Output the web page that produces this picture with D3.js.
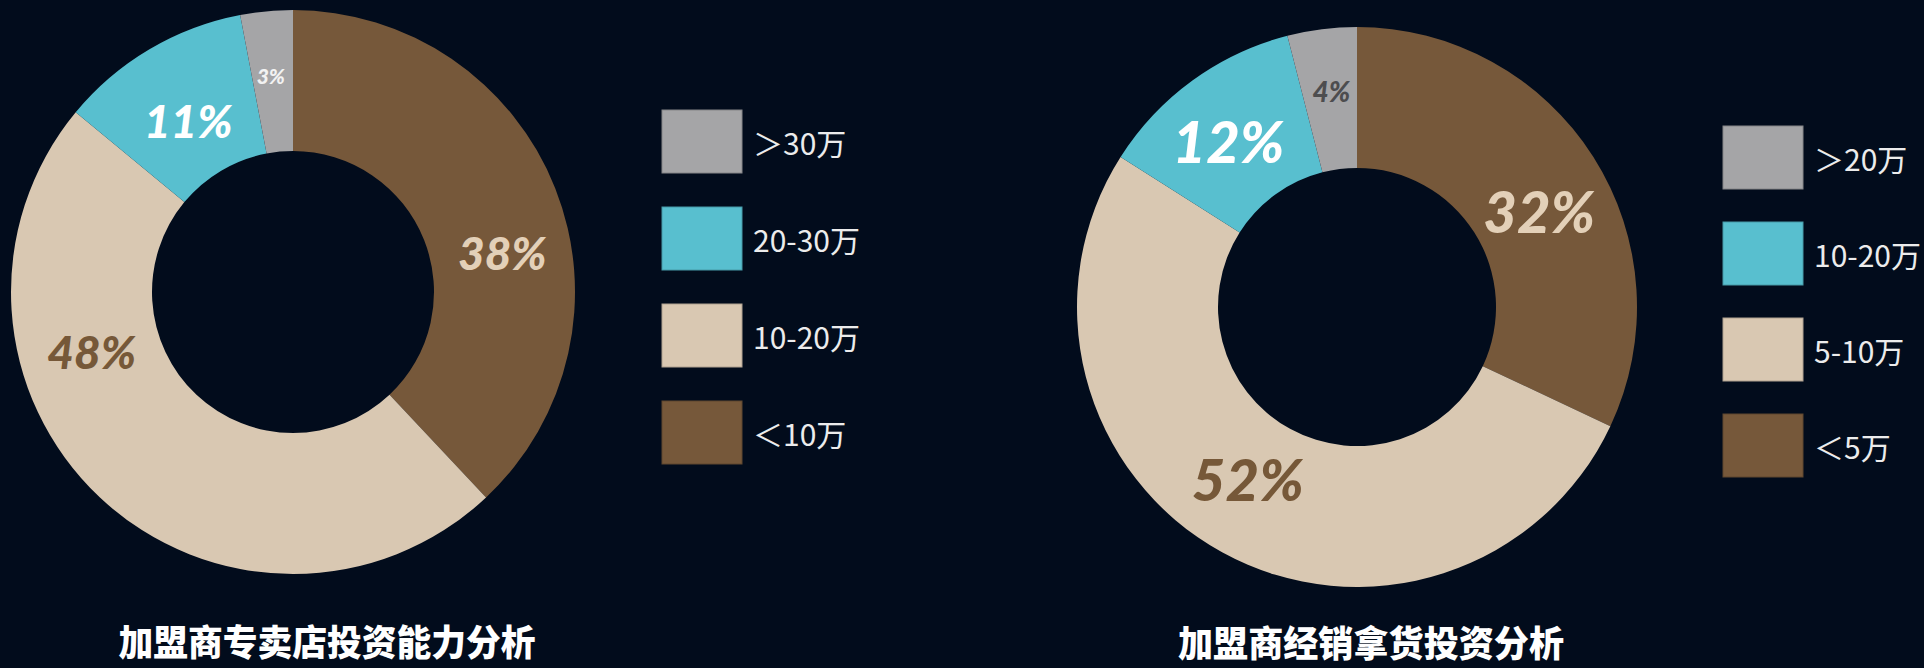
<!DOCTYPE html>
<html>
<head>
<meta charset="utf-8">
<script src="https://cdn.jsdelivr.net/npm/d3@7"></script>
<style>
  html, body { margin: 0; padding: 0; background: #020c1c; }
  svg { display: block; }
</style>
</head>
<body>
<div id="chart"></div>
<script>
/** Data: legend order, top to bottom */
const storeCategories = ["＞30万", "20-30万", "10-20万", "＜10万"];
const storeValues = [3, 11, 48, 38];
const storeTitle = "加盟商专卖店投资能力分析";

const dealerCategories = ["＞20万", "10-20万", "5-10万", "＜5万"];
const dealerValues = [4, 12, 52, 32];
const dealerTitle = "加盟商经销拿货投资分析";

const sliceColors = ["#a5a5a7", "#58bfcf", "#d9c8b2", "#76583a"];

/** Page size */
const width = 1924;
const height = 668;

/** Layout per chart */
const charts = [
  {
    categories: storeCategories,
    values: storeValues,
    title: storeTitle,
    cx: 293, cy: 292, outer: 282, inner: 141,
    labelFrac: [0.46, 0.48, 0.675, 0.58],
    labelR: [218, 201, 210, 213],
    labelSize: [21, 46, 46, 46],
    labelColor: ["#f2f2f2", "#ffffff", "#765838", "#e3d0b8"],
    legendX: 662, legendY: 110, legendStep: 97,
    titleX: 327, titleY: 656, titleWidth: 417,
  },
  {
    categories: dealerCategories,
    values: dealerValues,
    title: dealerTitle,
    cx: 1357, cy: 307, outer: 280, inner: 139,
    labelFrac: [0.53, 0.46, 0.52, 0.54],
    labelR: [218, 210, 203, 206],
    labelSize: [28, 58, 58, 58],
    labelColor: ["#4d4d4f", "#ffffff", "#765838", "#e3d0b8"],
    legendX: 1723, legendY: 126, legendStep: 96,
    titleX: 1371, titleY: 657, titleWidth: 386,
  },
];

const color = d3.scaleOrdinal().range(sliceColors);

const svg = d3
  .select("#chart")
  .append("svg")
  .attr("width", width)
  .attr("height", height);

svg.append("rect").attr("width", width).attr("height", height).attr("fill", "#020c1c");

charts.forEach((c) => {
  color.domain(c.categories);
  const data = c.categories.map((name, i) => ({ name, value: c.values[i], i }));

  /** Pie starts at 12 o'clock with the last legend item, going clockwise */
  const pie = d3.pie().sort(null).value((d) => d.value);
  const arcs = pie(data.slice().reverse());
  const arc = d3.arc().innerRadius(c.inner).outerRadius(c.outer);

  const g = svg.append("g").attr("transform", `translate(${c.cx},${c.cy})`);

  g.selectAll("path")
    .data(arcs)
    .join("path")
    .attr("d", arc)
    .attr("fill", (d) => color(d.data.name));

  /** Percent labels */
  g.selectAll("text")
    .data(arcs)
    .join("text")
    .attr("transform", (d) => {
      const i = d.data.i;
      const a = d.startAngle + (d.endAngle - d.startAngle) * c.labelFrac[i];
      const [x, y] = d3.pointRadial(a, c.labelR[i]);
      return `translate(${x},${y})`;
    })
    .attr("text-anchor", "middle")
    .attr("dominant-baseline", "central")
    .attr("font-family", "Lato, 'Open Sans', sans-serif")
    .attr("font-style", "italic")
    .attr("font-weight", 900)
    .attr("font-size", (d) => c.labelSize[d.data.i])
    .attr("fill", (d) => c.labelColor[d.data.i])
    .text((d) => d.data.value + "%");

  /** Legend */
  const legend = svg
    .append("g")
    .selectAll("g")
    .data(data)
    .join("g")
    .attr("transform", (d) => `translate(${c.legendX},${c.legendY + d.i * c.legendStep})`);

  legend
    .append("rect")
    .attr("width", 80)
    .attr("height", 63)
    .attr("fill", (d) => color(d.name))
    .attr("stroke", (d) => d3.color(color(d.name)).darker(0.6))
    .attr("stroke-width", 1);

  legend
    .append("text")
    .attr("x", 91)
    .attr("y", 32)
    .attr("dominant-baseline", "central")
    .attr("font-family", "'Noto Sans CJK SC', sans-serif")
    .attr("font-size", 30)
    .attr("fill", "#ececec")
    .text((d) => d.name);

  /** Title, a bit condensed like the original */
  svg
    .append("text")
    .attr("x", c.titleX)
    .attr("y", c.titleY)
    .attr("text-anchor", "middle")
    .attr("font-family", "'Noto Sans CJK SC', sans-serif")
    .attr("font-weight", 900)
    .attr("font-size", 36)
    .attr("textLength", c.titleWidth)
    .attr("lengthAdjust", "spacingAndGlyphs")
    .attr("fill", "#ffffff")
    .text(c.title);
});
</script>
</body>
</html>
